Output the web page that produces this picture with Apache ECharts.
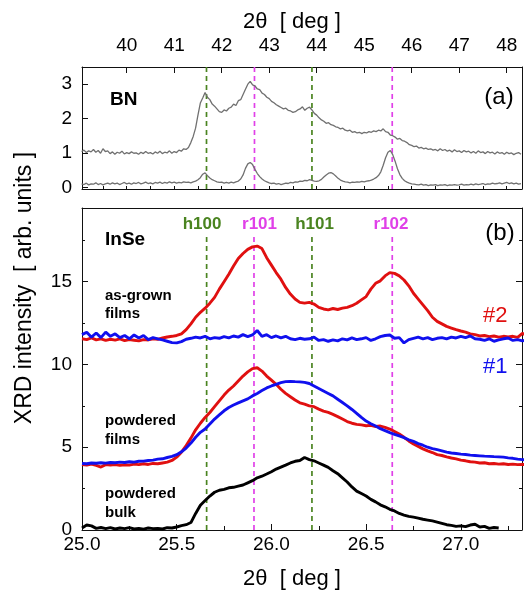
<!DOCTYPE html>
<html><head><meta charset="utf-8">
<script src="https://cdn.jsdelivr.net/npm/echarts@6/dist/echarts.min.js"></script>
<style>html,body{margin:0;padding:0;background:#fff}#c{width:526px;height:592px}</style>
</head><body><div id="c"></div>
<script>
// ---------- Panel (a): BN, 2theta grid ----------
const bnX0 = 39.05, bnStep = 0.05;
const bnUpper = [
 1.04,1.08,1.01,1.06,1.03,1.10,1.02,1.07,0.99,1.12,
 1.04,1.06,0.98,1.03,0.96,1.02,0.99,1.05,0.97,1.01,
 0.98,1.03,0.99,1.00,0.96,1.02,0.98,1.04,0.99,1.01,
 0.97,1.03,0.99,1.05,0.98,1.02,1.00,1.06,0.99,1.04,
 1.01,1.08,1.05,1.12,1.10,1.16,1.30,1.48,1.72,2.10,
 2.45,2.60,2.76,2.62,2.55,2.42,2.36,2.28,2.20,2.18,
 2.25,2.22,2.30,2.33,2.42,2.38,2.52,2.55,2.70,2.85,
 3.00,3.08,2.98,2.95,2.86,2.84,2.74,2.70,2.62,2.58,
 2.50,2.46,2.40,2.36,2.32,2.28,2.30,2.24,2.22,2.18,
 2.20,2.25,2.28,2.34,2.24,2.30,2.33,2.25,2.15,2.10,
 2.02,1.96,1.92,1.86,1.88,1.82,1.80,1.76,1.74,1.70,
 1.72,1.66,1.64,1.66,1.60,1.62,1.58,1.60,1.56,1.60,
 1.58,1.62,1.60,1.64,1.62,1.66,1.64,1.70,1.62,1.60,
 1.52,1.50,1.46,1.40,1.42,1.36,1.34,1.30,1.24,1.22,
 1.18,1.20,1.14,1.16,1.12,1.14,1.10,1.12,1.08,1.10,
 1.06,1.12,1.07,1.10,1.05,1.08,1.03,1.09,1.04,1.06,
 1.01,1.07,1.03,1.05,1.00,1.04,0.99,1.06,1.01,1.03,
 0.98,1.04,1.00,1.02,0.97,1.03,0.99,1.01,0.96,1.02,
 0.98,1.00,0.95,0.99,1.01,0.96
];
const bnLower = [
 0.10,0.08,0.12,0.07,0.10,0.09,0.13,0.08,0.11,0.07,
 0.10,0.12,0.09,0.13,0.10,0.12,0.08,0.11,0.14,0.10,
 0.12,0.09,0.13,0.11,0.14,0.10,0.12,0.15,0.11,0.13,
 0.10,0.14,0.12,0.15,0.11,0.14,0.12,0.16,0.13,0.15,
 0.12,0.14,0.13,0.16,0.14,0.15,0.13,0.16,0.18,0.22,
 0.28,0.38,0.42,0.34,0.27,0.22,0.19,0.16,0.14,0.15,
 0.12,0.14,0.12,0.15,0.13,0.16,0.18,0.24,0.36,0.55,
 0.68,0.72,0.66,0.52,0.40,0.31,0.24,0.19,0.16,0.13,
 0.11,0.12,0.09,0.11,0.08,0.10,0.12,0.11,0.14,0.13,
 0.16,0.15,0.18,0.17,0.20,0.19,0.22,0.20,0.18,0.17,
 0.19,0.23,0.30,0.36,0.41,0.43,0.39,0.33,0.26,0.21,
 0.18,0.16,0.15,0.13,0.15,0.14,0.16,0.15,0.17,0.16,
 0.18,0.19,0.21,0.24,0.28,0.34,0.45,0.64,0.86,1.02,
 1.07,0.95,0.76,0.54,0.37,0.26,0.19,0.15,0.12,0.10,
 0.09,0.08,0.07,0.09,0.06,0.08,0.05,0.07,0.06,0.08,
 0.05,0.07,0.06,0.08,0.05,0.07,0.06,0.08,0.06,0.07,
 0.09,0.06,0.08,0.07,0.09,0.07,0.10,0.08,0.09,0.11,
 0.08,0.10,0.09,0.12,0.10,0.11,0.13,0.10,0.12,0.14,
 0.11,0.13,0.10,0.12,0.09,0.11
];
const bnTicks = [40,41,42,43,44,45,46,47,48];
const bnMinorTicks = [39.5,40,40.5,41,41.5,42,42.5,43,43.5,44,44.5,45,45.5,46,46.5,47,47.5,48];
const bnYTicks = [0,1,2,3];
const bnGreenLines = [41.68, 43.90];
const bnMagentaLines = [42.69, 45.59];

// ---------- Panel (b): InSe ----------
const inX0 = 25.0, inStep = 0.025;
const grown2 = [
 11.55,11.50,11.60,11.48,11.55,11.45,11.52,11.47,11.55,11.44,
 11.50,11.46,11.42,11.50,11.48,11.55,11.52,11.60,11.66,11.70,
 11.75,11.85,12.10,12.45,12.85,13.15,13.40,13.70,14.05,14.55,
 15.00,15.45,15.95,16.40,16.70,16.95,17.10,17.15,17.00,16.45,
 16.00,15.55,15.15,14.65,14.25,13.95,13.75,13.70,13.75,13.65,
 13.45,13.35,13.30,13.38,13.32,13.40,13.45,13.55,13.70,13.90,
 14.10,14.55,14.90,15.05,15.35,15.55,15.50,15.35,15.10,14.75,
 14.30,13.95,13.60,13.25,12.85,12.60,12.45,12.30,12.20,12.10,
 12.02,11.95,11.85,11.80,11.72,11.75,11.68,11.72,11.65,11.70,
 11.66,11.70,11.64,11.88,11.75
];
const grown1 = [
 11.80,11.95,11.65,11.90,11.62,11.95,11.70,11.85,11.62,11.75,
 11.55,11.78,11.60,11.75,11.50,11.62,11.55,11.48,11.40,11.32,
 11.30,11.38,11.52,11.58,11.65,11.60,11.70,11.55,11.62,11.58,
 11.68,11.60,11.72,11.65,11.80,11.68,11.78,12.05,11.70,11.80,
 11.62,11.72,11.60,11.70,11.55,11.50,11.58,11.52,11.55,11.65,
 11.45,11.50,11.40,11.48,11.42,11.55,11.48,11.60,11.50,11.55,
 11.62,11.45,11.55,11.68,11.75,11.78,11.58,11.62,11.30,11.50,
 11.58,11.65,11.55,11.62,11.50,11.58,11.62,11.55,11.65,11.60,
 11.70,11.62,11.72,11.55,11.52,11.45,11.55,11.40,11.48,11.55,
 11.60,11.45,11.50,11.42,11.48
];
const powder2 = [
 3.96,3.92,3.98,3.90,3.80,3.95,3.92,3.95,3.90,3.94,
 3.92,3.98,3.95,4.00,3.96,4.02,4.00,4.05,4.10,4.20,
 4.40,4.70,5.10,5.55,6.05,6.45,6.80,7.10,7.45,7.80,
 8.15,8.45,8.70,9.00,9.30,9.55,9.75,9.80,9.60,9.30,
 9.05,8.80,8.50,8.25,8.05,7.85,7.68,7.60,7.50,7.45,
 7.30,7.18,7.10,6.98,6.85,6.70,6.55,6.45,6.38,6.35,
 6.30,6.32,6.25,6.28,6.20,6.10,5.95,5.80,5.60,5.38,
 5.20,5.05,4.90,4.78,4.68,4.55,4.50,4.42,4.35,4.30,
 4.22,4.18,4.12,4.10,4.05,4.06,4.00,4.02,3.98,4.00,
 3.96,3.98,3.95,3.96,3.94
];
const powder1 = [
 4.02,4.00,4.05,4.03,4.06,4.04,4.08,4.06,4.10,4.08,
 4.12,4.10,4.15,4.16,4.20,4.22,4.28,4.30,4.38,4.45,
 4.55,4.72,4.95,5.25,5.60,5.90,6.10,6.40,6.70,6.95,
 7.20,7.40,7.55,7.68,7.80,7.92,8.10,8.25,8.42,8.58,
 8.70,8.80,8.90,8.96,8.98,8.96,8.95,8.92,8.85,8.70,
 8.55,8.40,8.25,8.10,7.90,7.70,7.50,7.28,7.05,6.80,
 6.58,6.42,6.28,6.12,6.00,5.88,5.78,5.68,5.58,5.45,
 5.35,5.22,5.12,5.00,4.92,4.85,4.78,4.70,4.65,4.62,
 4.58,4.56,4.52,4.50,4.48,4.46,4.45,4.43,4.42,4.40,
 4.36,4.33,4.28,4.25,4.22
];
const bulk = [
 0.12,0.30,0.25,0.10,0.15,0.08,0.14,0.06,0.12,0.08,
 0.14,0.06,0.10,0.05,0.12,0.08,0.10,0.06,0.14,0.12,
 0.18,0.26,0.32,0.45,1.00,1.50,1.78,2.05,2.28,2.40,
 2.45,2.55,2.58,2.65,2.72,2.85,2.98,3.15,3.25,3.38,
 3.52,3.68,3.80,3.92,4.05,4.15,4.20,4.38,4.25,4.18,
 4.05,3.92,3.78,3.58,3.40,3.15,2.90,2.60,2.35,2.20,
 2.05,1.85,1.70,1.52,1.40,1.25,1.15,1.00,0.90,0.82,
 0.78,0.72,0.65,0.60,0.55,0.48,0.40,0.32,0.28,0.22,
 0.25,0.20,0.30,0.35,0.18,0.22,0.10,0.15,0.12
];
const inTicks = [25.0,25.5,26.0,26.5,27.0];
const inMinorTicks = [25.25,25.75,26.25,26.75,27.25];
const inYTicks = [0,5,10,15];
const inYMinor = [2.5,7.5,12.5,17.5];
const inGreenLines = [25.658, 26.214];
const inMagentaLines = [25.908, 26.638];
const inLineTop = 17.8;
const inLabels = ['h100','r101','h101','r102'];

// ---------- build ----------
const FONT = '"Liberation Sans", Arial, Helvetica, sans-serif';
const GREEN = '#4a8420', MAG = '#e040e8', RED = '#e01010', BLUE = '#1010ee';
const toPairs = (x0, st, arr) => arr.map((v, i) => [+(x0 + i * st).toFixed(4), v]);

const bnMin = 39.059, bnMax = 48.322, inMin = 25.0, inMax = 27.323;
const lineCol = {color: '#111', width: 1};

function xAx(grid, pos, min, max, opts) {
  return Object.assign({gridIndex: grid, type: 'value', position: pos, min, max,
    axisLine: {show: true, onZero: false, lineStyle: lineCol},
    splitLine: {show: false}, axisLabel: {show: false}, axisTick: {show: false}}, opts);
}
function yAx(grid, pos, min, max, opts) {
  return Object.assign({gridIndex: grid, type: 'value', position: pos, min, max,
    axisLine: {show: true, onZero: false, lineStyle: lineCol},
    splitLine: {show: false}, axisLabel: {show: false}, axisTick: {show: false}}, opts);
}
const lab = (vals, extra) => Object.assign({show: true, customValues: vals, fontSize: 19, color: '#000', fontFamily: FONT}, extra);
const tick = (vals, len) => ({show: true, inside: true, length: len, customValues: vals, lineStyle: lineCol});

const xAxis = [
  xAx(0, 'top', bnMin, bnMax, {axisTick: tick(bnTicks, 6), axisLabel: lab(bnTicks, {margin: 12})}),
  xAx(0, 'bottom', bnMin, bnMax, {axisTick: tick(bnMinorTicks, 3)}),
  xAx(1, 'bottom', inMin, inMax, {axisTick: tick(inTicks, 6), axisLabel: lab(inTicks, {margin: 5, formatter: v => (+v).toFixed(1)})}),
  xAx(1, 'bottom', inMin, inMax, {axisLine: {show: false}, axisTick: tick(inMinorTicks, 4)}),
  xAx(1, 'top', inMin, inMax, {})
];
const yAxis = [
  yAx(0, 'left', -0.05, 3.5, {axisTick: tick(bnYTicks, 6), axisLabel: lab(bnYTicks, {margin: 10})}),
  yAx(0, 'right', -0.05, 3.5, {}),
  yAx(1, 'left', 0, 19.45, {axisTick: tick(inYTicks, 6), axisLabel: lab(inYTicks, {margin: 10})}),
  yAx(1, 'left', 0, 19.45, {axisLine: {show: false}, axisTick: tick(inYMinor, 3)}),
  yAx(1, 'right', 0, 19.45, {axisTick: tick([5, 10, 15], 6)}),
  yAx(1, 'right', 0, 19.45, {axisLine: {show: false}, axisTick: tick(inYMinor, 3)})
];

const series = [];
function vline(xi, yi, x, y0, y1, color) {
  series.push({type: 'line', xAxisIndex: xi, yAxisIndex: yi, data: [[x, y0], [x, y1]],
    showSymbol: false, silent: true, z: 1,
    lineStyle: {color, width: 1.7, type: [5, 4]}});
}
bnGreenLines.forEach(x => vline(0, 0, x, -0.05, 3.5, GREEN));
bnMagentaLines.forEach(x => vline(0, 0, x, -0.05, 3.5, MAG));
inGreenLines.forEach(x => vline(2, 2, x, 0, inLineTop, GREEN));
inMagentaLines.forEach(x => vline(2, 2, x, 0, inLineTop, MAG));

function curve(xi, yi, x0, st, arr, color, width, z) {
  series.push({type: 'line', xAxisIndex: xi, yAxisIndex: yi, data: toPairs(x0, st, arr),
    showSymbol: false, silent: true, z: z || 2,
    lineStyle: {color, width}});
}
curve(0, 0, bnX0, bnStep, bnUpper, '#707070', 1.3);
curve(0, 0, bnX0, bnStep, bnLower, '#707070', 1.3);
curve(2, 2, inX0, inStep, grown2, RED, 2.9);
curve(2, 2, inX0, inStep, grown1, BLUE, 2.9, 3);
curve(2, 2, inX0, inStep, powder2, RED, 2.9);
curve(2, 2, inX0, inStep, powder1, BLUE, 2.9, 3);
curve(2, 2, inX0, inStep, bulk, '#000', 2.9, 3);

function txt(x, y, s, o) {
  return {type: 'text', x, y, silent: true, z: 100,
    style: Object.assign({text: s, fill: '#000', fontFamily: FONT, fontSize: 19, align: 'left', verticalAlign: 'middle'}, o)};
}
const dashLabelX = [202, 259.5, 314.5, 391];
const dashLabelCol = [GREEN, MAG, GREEN, MAG];
const graphic = [
  txt(292, 22, '2θ  [ deg ]', {fontSize: 22, align: 'center'}),
  txt(292, 579, '2θ  [ deg ]', {fontSize: 22, align: 'center'}),
  Object.assign(txt(25, 288, 'XRD intensity  [ arb. units ]', {fontSize: 23, align: 'center'}), {rotation: Math.PI / 2}),
  txt(110, 100, 'BN', {fontSize: 19, fontWeight: 'bold'}),
  txt(499, 97, '(a)', {fontSize: 24, align: 'center'}),
  txt(105, 240, 'InSe', {fontSize: 19, fontWeight: 'bold'}),
  txt(500, 233, '(b)', {fontSize: 24, align: 'center'}),
  txt(105, 296, 'as-grown', {fontSize: 15, fontWeight: 'bold'}),
  txt(105, 314, 'films', {fontSize: 15, fontWeight: 'bold'}),
  txt(105, 421, 'powdered', {fontSize: 15, fontWeight: 'bold'}),
  txt(105, 440, 'films', {fontSize: 15, fontWeight: 'bold'}),
  txt(105, 494, 'powdered', {fontSize: 15, fontWeight: 'bold'}),
  txt(105, 513, 'bulk', {fontSize: 15, fontWeight: 'bold'}),
  txt(483, 316, '#2', {fontSize: 22, fill: RED}),
  txt(483, 367, '#1', {fontSize: 22, fill: BLUE})
];
inLabels.forEach((s, i) => graphic.push(txt(dashLabelX[i], 224, s, {fontSize: 17, fontWeight: 'bold', align: 'center', fill: dashLabelCol[i]})));

const chart = echarts.init(document.getElementById('c'), null, {renderer: 'canvas'});
chart.setOption({
  animation: false,
  backgroundColor: '#fff',
  grid: [
    {left: 82, right: 4, top: 67, height: 122},
    {left: 82, right: 4, top: 208, height: 322}
  ],
  xAxis, yAxis, series, graphic
});
</script></body></html>
